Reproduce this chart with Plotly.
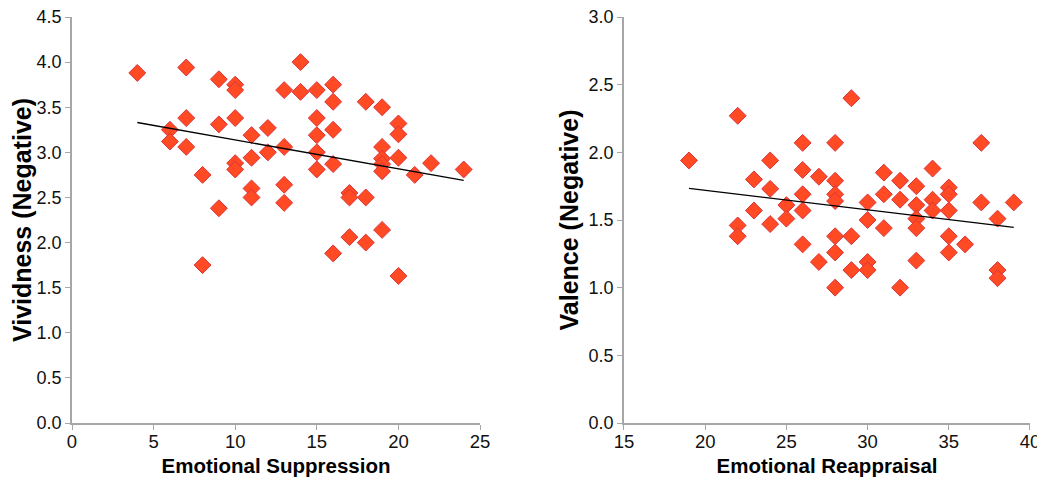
import numpy as np
import plotly.graph_objects as go
from plotly.subplots import make_subplots

# Left panel: Emotional Suppression vs Vividness (Negative)
supp_x = [4, 6, 6, 7, 7, 7, 8, 8, 9, 9, 9,
          10, 10, 10, 10, 10, 11, 11, 11, 11, 12, 12,
          13, 13, 13, 13, 14, 14, 15, 15, 15, 15, 15,
          16, 16, 16, 16, 16, 17, 17, 17, 18, 18, 18,
          19, 19, 19, 19, 19, 19, 20, 20, 20, 20, 21, 22, 24]
vivid_y = [3.88, 3.25, 3.12, 3.94, 3.38, 3.06, 2.75, 1.75, 3.81, 3.31, 2.38,
           3.75, 3.69, 3.38, 2.88, 2.81, 3.19, 2.94, 2.60, 2.50, 3.27, 3.00,
           3.69, 3.06, 2.64, 2.44, 4.00, 3.67, 3.69, 3.38, 3.19, 3.00, 2.81,
           3.75, 3.56, 3.25, 2.87, 1.88, 2.55, 2.50, 2.06, 3.56, 2.50, 2.00,
           3.50, 3.06, 2.93, 2.87, 2.79, 2.14, 3.32, 3.20, 2.94, 1.63, 2.75, 2.88, 2.81]

# Right panel: Emotional Reappraisal vs Valence (Negative)
reap_x = [19, 22, 22, 22, 23, 23, 24, 24, 24, 25, 25,
          26, 26, 26, 26, 26, 27, 27,
          28, 28, 28, 28, 28, 28, 28, 29, 29, 29,
          30, 30, 30, 30, 31, 31, 31, 32, 32, 32,
          33, 33, 33, 33, 33, 34, 34, 34,
          35, 35, 35, 35, 35, 36, 37, 37, 38, 38, 38, 39]
valence_y = [1.94, 2.27, 1.46, 1.38, 1.80, 1.57, 1.94, 1.73, 1.47, 1.61, 1.51,
             2.07, 1.87, 1.69, 1.57, 1.32, 1.82, 1.19,
             2.07, 1.79, 1.69, 1.64, 1.38, 1.26, 1.00, 2.40, 1.38, 1.13,
             1.63, 1.50, 1.19, 1.13, 1.85, 1.69, 1.44, 1.79, 1.65, 1.00,
             1.75, 1.61, 1.51, 1.44, 1.20, 1.88, 1.65, 1.57,
             1.74, 1.69, 1.57, 1.38, 1.26, 1.32, 2.07, 1.63, 1.51, 1.13, 1.07, 1.63]

x_titles = ["Emotional Suppression", "Emotional Reappraisal"]
y_titles = ["Vividness (Negative)", "Valence (Negative)"]

FONT = "Liberation Sans, Arial, Helvetica, sans-serif"
FILL = "#FF4A24"
EDGE = "#D9343A"
AXIS = "#A6A6A6"

fig = make_subplots(rows=1, cols=2, horizontal_spacing=0.15)

for col, (xs, ys) in enumerate([(supp_x, vivid_y), (reap_x, valence_y)], start=1):
    fig.add_trace(go.Scatter(
        x=xs, y=ys, mode="markers",
        marker=dict(symbol="diamond", size=13, color=FILL,
                    line=dict(color=EDGE, width=1)),
        showlegend=False, hoverinfo="x+y"), row=1, col=col)
    slope, intercept = np.polyfit(xs, ys, 1)
    lx = np.array([min(xs), max(xs)], dtype=float)
    fig.add_trace(go.Scatter(
        x=lx, y=slope * lx + intercept, mode="lines",
        line=dict(color="black", width=1.3),
        showlegend=False, hoverinfo="skip"), row=1, col=col)

axis_common = dict(showgrid=False, zeroline=False, showline=True,
                   linecolor=AXIS, linewidth=1.5, ticks="outside",
                   tickcolor=AXIS, ticklen=5, tickwidth=1,
                   ticklabeloverflow="allow")

fig.update_xaxes(**axis_common,
                 tickfont=dict(family=FONT, size=18.5, color="#111111"),
                 ticklabelstandoff=-4,
                 title_font=dict(family=FONT, size=20.5, color="black"),
                 title_standoff=9)
fig.update_yaxes(**axis_common,
                 tickfont=dict(family=FONT, size=18, color="#111111"),
                 title_font=dict(family=FONT, size=25, color="black"),
                 title_standoff=3, tickformat=".1f")

fig.update_xaxes(range=[0, 25], dtick=5, title_text="<b>" + x_titles[0] + "</b>",
                 domain=[0, 0.4259], row=1, col=1)
fig.update_yaxes(range=[0, 4.5], dtick=0.5, title_text="<b>" + y_titles[0] + "</b>",
                 row=1, col=1)
fig.update_xaxes(range=[15, 40], dtick=5, title_text="<b>" + x_titles[1] + "</b>",
                 domain=[0.5762, 1.0], row=1, col=2)
fig.update_yaxes(range=[0, 3.0], dtick=0.5, title_text="<b>" + y_titles[1] + "</b>",
                 row=1, col=2)

fig.update_layout(
    width=1037, height=469,
    margin=dict(l=64, r=15, t=9, b=54, autoexpand=False),
    plot_bgcolor="white", paper_bgcolor="white",
    font=dict(family=FONT),
)

fig.write_html("out.html")
